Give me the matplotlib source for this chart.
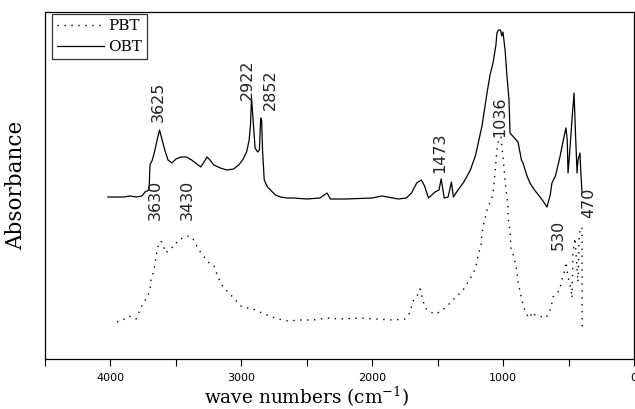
import matplotlib
matplotlib.use("Agg")
import matplotlib.pyplot as plt
from matplotlib.ticker import MultipleLocator

# ---- data ----
obt_wn = [4020, 3950, 3900, 3850, 3800, 3760, 3736, 3705, 3698, 3680, 3660, 3640, 3625,
          3605, 3585, 3560, 3530, 3500, 3460, 3420, 3380, 3340, 3310, 3290, 3262, 3240,
          3210, 3160, 3110, 3060, 3020, 2990, 2960, 2940, 2930, 2922, 2910, 2895, 2875,
          2862, 2852, 2845, 2838, 2825, 2800, 2770, 2740, 2700, 2650, 2600, 2500, 2400,
          2345, 2320, 2200, 2000, 1925, 1800, 1740, 1700, 1660, 1625, 1600, 1570, 1520,
          1490, 1473, 1450, 1420, 1395, 1380, 1350, 1300, 1250, 1210, 1160, 1123, 1100,
          1077, 1055, 1047, 1036, 1020, 1010, 1001, 985, 970, 955, 947, 920, 886, 860,
          848, 820, 795, 760, 718, 690, 665, 640, 627, 600, 566, 540, 520, 510, 504,
          490, 474, 458, 448, 435, 428, 413, 405, 397]
obt_a = [1.62, 1.62, 1.62, 1.63, 1.62, 1.63, 1.67, 1.69, 1.94, 1.99, 2.09, 2.21, 2.29,
         2.19, 2.09, 1.99, 1.96, 2.00, 2.02, 2.02, 1.99, 1.95, 1.92, 1.96, 2.02, 1.99,
         1.94, 1.91, 1.89, 1.90, 1.94, 1.99, 2.07, 2.19, 2.34, 2.61, 2.39, 2.11, 2.07,
         2.09, 2.41, 2.39, 2.09, 1.79, 1.72, 1.68, 1.64, 1.62, 1.61, 1.61, 1.60, 1.61,
         1.66, 1.60, 1.60, 1.61, 1.63, 1.60, 1.61, 1.66, 1.76, 1.79, 1.73, 1.61, 1.67,
         1.69, 1.80, 1.61, 1.62, 1.77, 1.62, 1.68, 1.77, 1.89, 2.04, 2.34, 2.66, 2.84,
         2.96, 3.14, 3.26, 3.29, 3.29, 3.23, 3.27, 3.09, 2.82, 2.59, 2.26, 2.22, 2.17, 1.99,
         1.96, 1.84, 1.76, 1.69, 1.62, 1.57, 1.52, 1.64, 1.76, 1.83, 2.02, 2.19, 2.31, 2.19, 1.86,
         2.09, 2.39, 2.66, 2.29, 1.86, 1.99, 2.06, 1.84, 1.66]

pbt_wn = [3950, 3904, 3858, 3805, 3751, 3721, 3698, 3690, 3667, 3652, 3637, 3614, 3598,
          3575, 3545, 3515, 3484, 3446, 3415, 3377, 3354, 3324, 3278, 3239, 3209, 3178,
          3140, 3102, 2995, 2911, 2842, 2720, 2643, 2552, 2452, 2345, 2246, 2078, 1979,
          1841, 1750, 1719, 1704, 1681, 1658, 1635, 1597, 1528, 1482, 1436, 1383, 1306,
          1245, 1222, 1199, 1192, 1169, 1161, 1146, 1123, 1077, 1047, 1031, 1016, 1001,
          978, 963, 960, 947, 940, 917, 894, 886, 856, 840, 817, 795, 779, 756, 672, 634,
          619, 565, 558, 527, 520, 504, 481, 474, 466, 451, 435, 428, 420, 413, 397, 396]
pbt_a = [0.37, 0.39, 0.43, 0.40, 0.56, 0.61, 0.69, 0.79, 0.89, 1.02, 1.12, 1.18, 1.14,
         1.06, 1.11, 1.12, 1.19, 1.21, 1.23, 1.22, 1.16, 1.09, 1.01, 0.95, 0.93, 0.82,
         0.72, 0.67, 0.52, 0.50, 0.46, 0.40, 0.38, 0.39, 0.39, 0.41, 0.40, 0.41, 0.40,
         0.39, 0.40, 0.45, 0.51, 0.60, 0.63, 0.70, 0.51, 0.45, 0.47, 0.52, 0.59, 0.69,
         0.82, 0.88, 0.97, 1.03, 1.14, 1.26, 1.36, 1.49, 1.64, 2.09, 2.21, 2.22, 2.02,
         1.69, 1.54, 1.39, 1.28, 1.10, 1.02, 0.87, 0.77, 0.59, 0.51, 0.44, 0.41, 0.47, 0.44,
         0.41, 0.51, 0.62, 0.69, 0.77, 0.89, 0.97, 0.82, 0.69, 0.61, 1.06, 1.21, 0.89,
         0.77, 1.19, 1.29, 1.32, 0.32]

peak_labels = ["3625", "2922", "2852", "1473", "1036", "470", "3630", "3430", "530"]
peak_wn = [3637, 2957, 2781, 1482, 1024, 344, 3660, 3415, 581]
peak_a = [2.37, 2.59, 2.49, 1.86, 2.22, 1.41, 1.39, 1.39, 1.09]

series_names = ["PBT", "OBT"]
x_major = [4000, 3000, 2000, 1000, 0]

fig = plt.figure(figsize=(6.35, 4.09), dpi=100)
ax = fig.add_axes([45/635, 1 - 359/409, 589/635, 347/409])

ax.plot(pbt_wn, pbt_a, color="black", lw=1.0, linestyle=(0, (1, 4)), label=series_names[0])
ax.plot(obt_wn, obt_a, color="black", lw=0.9, linestyle="-", label=series_names[1])

for t, w, a in zip(peak_labels, peak_wn, peak_a):
    ax.text(w, a, t, rotation=90, ha="center", va="bottom", fontsize=11.5,
            family="DejaVu Sans", color="#222222")

ax.set_xlim(4500, 0)
ax.set_ylim(0, 3.47)
ax.set_xticks(x_major)
ax.set_xticklabels([str(v) for v in x_major], fontsize=8, family="DejaVu Sans")
ax.xaxis.set_minor_locator(MultipleLocator(500))
ax.tick_params(axis="x", which="both", direction="out", length=5, width=0.8, pad=5)
ax.set_yticks([])
for s in ax.spines.values():
    s.set_linewidth(0.9)

ax.set_xlabel("wave numbers (cm$^{\\mathregular{-1}}$)", family="DejaVu Serif", fontsize=13.3)
ax.xaxis.set_label_coords((307 - 45) / 589, (359 - 385) / 347)
ax.set_ylabel("Absorbance", family="DejaVu Serif", fontsize=15.5)
ax.yaxis.set_label_coords((27 - 45) / 589, 0.5)

leg = ax.legend(loc="upper left", bbox_to_anchor=(7/589, 1 - 2/347), borderaxespad=0,
                prop={"family": "DejaVu Serif", "size": 11}, handlelength=3.1,
                handletextpad=0.25, fancybox=False, frameon=True, edgecolor="black",
                borderpad=0.33, labelspacing=0.48)
leg.get_frame().set_linewidth(0.9)

fig.savefig("out.png", dpi=100)
